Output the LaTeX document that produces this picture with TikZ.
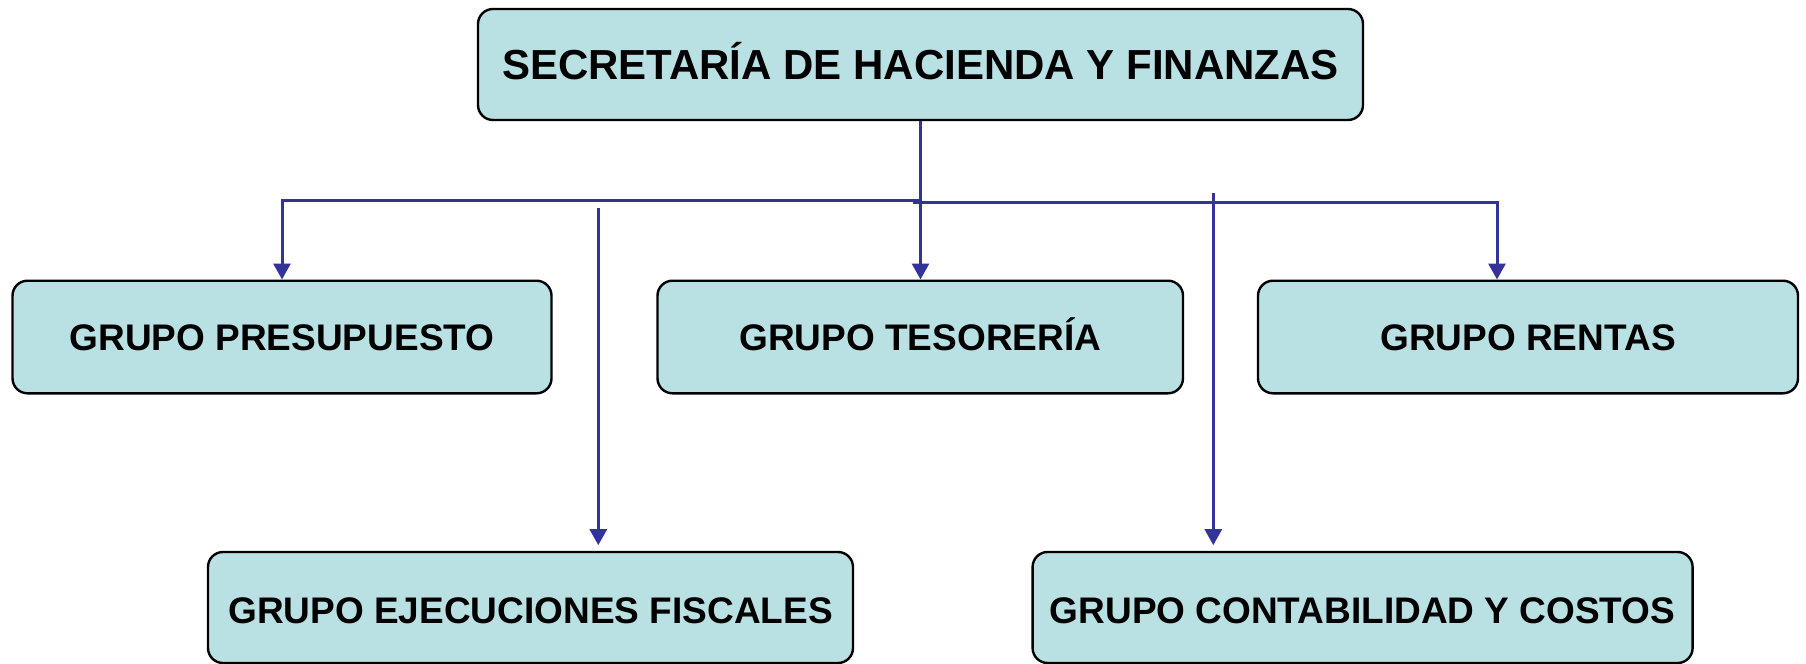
\documentclass[tikz,border=0pt]{standalone}
\usepackage{fontspec}
\setmainfont{Liberation Sans}
\usepackage{xcolor}
\usetikzlibrary{arrows.meta}
\definecolor{boxfill}{RGB}{185,224,227}
\definecolor{linkblue}{RGB}{51,51,153}

\begin{document}
\begin{tikzpicture}[x=0.5pt,y=-0.5pt,
  box node/.style={rectangle,rounded corners=7.5pt,draw=black,line width=1.2pt,fill=boxfill,
    inner sep=0pt,text height=13.3pt,text depth=0pt,font=\bfseries\fontsize{18.5}{22}\selectfont},
  head node/.style={box node,text height=15pt,font=\bfseries\fontsize{21}{26}\selectfont},
  low node/.style={box node,text height=16.3pt},
  link/.style={draw=linkblue,line width=1.5pt,-{Triangle[width=8.5pt,length=8pt]}}]

\useasboundingbox (0,0) rectangle (1806,664);

% top level
\node[head node,minimum width=442.5pt,minimum height=55.5pt] (shf) at (920.5,64.5) {SECRETARÍA DE HACIENDA Y FINANZAS};

% second row
\node[box node,minimum width=269.5pt,minimum height=56.3pt] (pre) at (282,337) {GRUPO PRESUPUESTO};
\node[box node,minimum width=262.75pt,minimum height=56.3pt] (tes) at (920.25,337) {GRUPO TESORERÍA};
\node[box node,minimum width=270pt,minimum height=56.3pt] (ren) at (1528,337) {GRUPO RENTAS};

% third row
\node[low node,minimum width=322.5pt,minimum height=55.5pt] (eje) at (530.5,607.5) {GRUPO EJECUCIONES FISCALES};
\node[low node,minimum width=330pt,minimum height=55.5pt] (con) at (1362.6,607.5) {GRUPO CONTABILIDAD Y COSTOS};

% loose ends of the connectors
\coordinate (jl) at (920.5,200.7);
\coordinate (jr) at (913,202.7);
\coordinate (rj) at (1497,202.7);
\coordinate (ej) at (598.3,208);
\coordinate (co) at (1213.3,193);

\draw[link] (shf.south) -- (shf.south |- tes.north);
\draw[link] (jl) -| (pre.north);
\draw[link] (jr) -- (rj) -- (rj |- ren.north);
\draw[link,shorten >=2.8pt] (ej) -- (ej |- eje.north);
\draw[link,shorten >=2.8pt] (co) -- (co |- con.north);

\end{tikzpicture}
\end{document}
